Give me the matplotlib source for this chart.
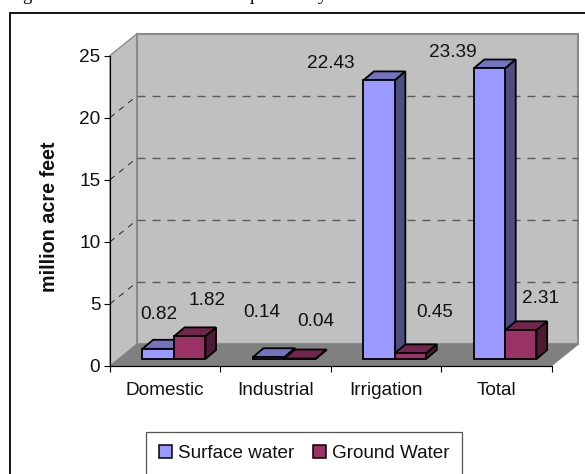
import matplotlib
matplotlib.use("Agg")
import matplotlib.pyplot as plt
from matplotlib.lines import Line2D
from matplotlib.patches import Polygon, Patch
from matplotlib.transforms import Affine2D, IdentityTransform

categories = ["Domestic", "Industrial", "Irrigation", "Total"]
surface_water = [0.82, 0.14, 22.43, 23.39]
ground_water = [1.82, 0.04, 0.45, 2.31]
y_ticks = [0, 5, 10, 15, 20, 25]
grid_values = [5, 10, 15, 20]

# pixel offsets of the value labels, relative to each bar's top
surface_offsets = [(9.5, 41.8), (2.1, 51.3), (-39.6, 23.7), (-27.7, 22.5)]
ground_offsets = [(26, 42.4), (24.6, 43.8), (33.2, 48.4), (28.5, 39.3)]

W, H, DPI = 585, 474, 100
plt.rcParams["font.family"] = ["Liberation Sans", "DejaVu Sans"]
FS = 13.7
TXT = "#111111"

fig = plt.figure(figsize=(W / DPI, H / DPI), dpi=DPI, facecolor="white")
ax = fig.add_axes([110 / W, 1 - 366 / H, 441.5 / W, 310.5 / H])
ax.set_xlim(0, 4)
ax.set_ylim(0, 25)
ax.patch.set_visible(False)


def shifted(dx, dy):
    return ax.transData + Affine2D().translate(dx, dy)


PX = IdentityTransform()
WALL_DX, WALL_DY = 26.8, 21.6
back = shifted(WALL_DX, WALL_DY)
WALL = "#C0C0C0"
FLOOR = "#808080"
EDGE = "#8A8A8A"

# side wall
data = ax.transData
ax.add_patch(Polygon(
    [data.transform((0, 0)), data.transform((0, 25)),
     back.transform((0, 25)), back.transform((0, 0))],
    closed=True, transform=PX, facecolor=WALL, edgecolor=EDGE, lw=1.0,
    zorder=1, clip_on=False))
# back wall
ax.add_patch(Polygon([(0, 0), (4, 0), (4, 25), (0, 25)], closed=True, transform=back,
                     facecolor=WALL, edgecolor=EDGE, lw=1.5, zorder=1.1, clip_on=False))
# floor
ax.add_patch(Polygon(
    [data.transform((0, 0)), data.transform((4, 0)),
     back.transform((4, 0)), back.transform((0, 0))],
    closed=True, transform=PX, facecolor=FLOOR, edgecolor=FLOOR, lw=0.5,
    zorder=1.2, clip_on=False))

# grid lines
for g in grid_values:
    ax.plot([0, 4], [g, g], transform=back, color="#5A5A5A", lw=1.0,
            linestyle=(0, (5.8, 5.0)), zorder=1.5, clip_on=False)
    p0 = data.transform((0, g))
    p1 = back.transform((0, g))
    ax.add_line(Line2D([p0[0], p1[0]], [p0[1], p1[1]], transform=PX, color="#222222",
                       lw=0.7, linestyle=(0, (6, 6)), zorder=1.5, clip_on=False))

# bars
BAR_W = 0.285
PLANE_DX, PLANE_DY = 8.7, 7.0
BAR_DX, BAR_DY = 10.7, 9.0
front = shifted(PLANE_DX, PLANE_DY)
rear = shifted(PLANE_DX + BAR_DX, PLANE_DY + BAR_DY)


def draw_bar(x0, x1, v, face, top, side, z):
    lw = 1.3
    a = lambda x, y: front.transform((x, y))
    b = lambda x, y: rear.transform((x, y))
    style = dict(closed=True, transform=PX, edgecolor="black", lw=lw,
                 joinstyle="miter", clip_on=False)
    ax.add_patch(Polygon([a(x0, v), a(x1, v), b(x1, v), b(x0, v)], facecolor=top, zorder=z, **style))
    ax.add_patch(Polygon([a(x1, 0), a(x1, v), b(x1, v), b(x1, 0)], facecolor=side, zorder=z, **style))
    ax.add_patch(Polygon([a(x0, 0), a(x1, 0), a(x1, v), a(x0, v)], facecolor=face, zorder=z + 0.01, **style))


C1 = ("#9999FF", "#7373BF", "#4D4D80")
C2 = ("#993366", "#73264D", "#4D1A33")
for i, (s, g) in enumerate(zip(surface_water, ground_water)):
    c = i + 0.5
    draw_bar(c - BAR_W, c, s, *C1, z=2 + i * 0.1)
    draw_bar(c, c + BAR_W, g, *C2, z=2.05 + i * 0.1)
    for v, xc, off in ((s, c - BAR_W / 2, surface_offsets[i]), (g, c + BAR_W / 2, ground_offsets[i])):
        ax.annotate(f"{v:.2f}", xy=(xc, v), xytext=(off[0] * 0.72, off[1] * 0.72),
                    textcoords="offset points", ha="center", va="center",
                    fontsize=FS, color=TXT, zorder=5, annotation_clip=False)

# axes
for name in ("top", "right"):
    ax.spines[name].set_visible(False)
for name in ("left", "bottom"):
    ax.spines[name].set_linewidth(0.85)
    ax.spines[name].set_color("black")
    ax.spines[name].set_zorder(3)
ax.set_yticks(y_ticks)
ax.set_xticks(range(5))
ax.set_xticklabels([])
ax.set_xticks([i + 0.5 for i in range(4)], minor=True)
ax.set_xticklabels(categories, minor=True, fontsize=FS, color=TXT)
ax.tick_params(axis="x", which="major", length=4.3, width=0.8, direction="out")
ax.tick_params(axis="x", which="minor", length=0, pad=11.5)
ax.tick_params(axis="y", length=4, width=0.8, direction="out", labelsize=FS, labelcolor=TXT, pad=3)
ax.set_ylabel("million acre feet", fontsize=14.2, fontweight="bold", color=TXT)
ax.yaxis.set_label_coords(59 / W, 1 - 217 / H, transform=fig.transFigure)

# legend
handles = [Patch(facecolor=C1[0], edgecolor="black", lw=1.1),
           Patch(facecolor=C2[0], edgecolor="black", lw=1.1)]
leg = fig.legend(handles, ["Surface water", "Ground Water"], loc="center",
                 bbox_to_anchor=(304 / W, 1 - 453.5 / H), ncol=2, fontsize=13.6,
                 frameon=True, fancybox=False, edgecolor="#555555", facecolor="white",
                 framealpha=1, handlelength=0.7, handleheight=0.7, handletextpad=0.3,
                 columnspacing=1.0, borderpad=0.7, borderaxespad=0)
leg.get_frame().set_linewidth(0.9)
for t in leg.get_texts():
    t.set_color(TXT)

# page frame around the chart
fig.add_artist(Line2D([10.3 / W, 10.3 / W, 1], [0, 1 - 13 / H, 1 - 13 / H],
                      transform=fig.transFigure, color="black", lw=1.3, solid_joinstyle="miter"))

# clipped caption fragments above the frame
for ch, x in (("g", 27), ("p", 254), ("y", 322)):
    fig.text(x / W, 1.0, ch, family="Liberation Serif", fontsize=13.4, ha="center",
             va="baseline", color="black")

fig.savefig("out.png", dpi=DPI, facecolor="white")
